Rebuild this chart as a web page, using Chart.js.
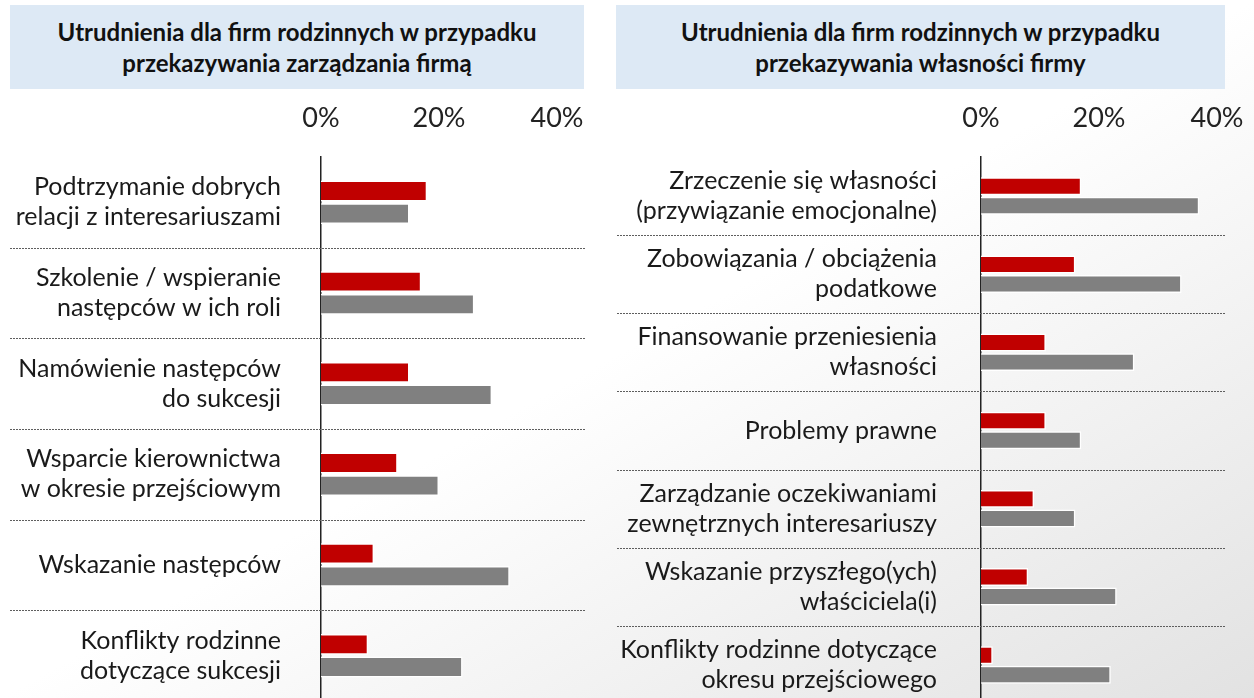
<!DOCTYPE html>
<html>
<head>
<meta charset="utf-8">
<script src="https://cdn.jsdelivr.net/npm/chart.js@4.4.1/dist/chart.umd.min.js"></script>
<style>
  html, body { margin: 0; padding: 0; }
  body {
    width: 1254px; height: 698px; overflow: hidden; position: relative;
    background: linear-gradient(to bottom right, #ffffff 50%, #e2e2e2 100%);
    font-family: Lato, "Open Sans", sans-serif;
  }
  .title-box {
    position: absolute; top: 5px; height: 84px;
    background: #dde9f5;
    display: flex; align-items: center; justify-content: center;
    text-align: center; font-weight: bold; font-size: 24px; line-height: 31px; color: #111;
  }
  .chart-wrap { position: absolute; top: 95px; }
</style>
</head>
<body>

<div class="title-box" style="left:10px;width:574px;">Utrudnienia dla firm rodzinnych w przypadku<br>przekazywania zarządzania firmą</div>
<div class="title-box" style="left:616px;width:609px;">Utrudnienia dla firm rodzinnych w przypadku<br>przekazywania własności firmy</div>

<div class="chart-wrap" style="left:0;width:600px;height:610px;"><canvas id="mgmt"></canvas></div>
<div class="chart-wrap" style="left:600px;width:654px;height:612px;"><canvas id="own"></canvas></div>

<script>
// --- data ---
const mgmtLabels = [
  ['Podtrzymanie dobrych', 'relacji z interesariuszami'],
  ['Szkolenie / wspieranie', 'następców w ich roli'],
  ['Namówienie następców', 'do sukcesji'],
  ['Wsparcie kierownictwa', 'w okresie przejściowym'],
  'Wskazanie następców',
  ['Konflikty rodzinne', 'dotyczące sukcesji']
];
const mgmtRed  = [18, 17, 15, 13, 9, 8];
const mgmtGray = [15, 26, 29, 20, 32, 24];

const ownLabels = [
  ['Zrzeczenie się własności', '(przywiązanie emocjonalne)'],
  ['Zobowiązania / obciążenia', 'podatkowe'],
  ['Finansowanie przeniesienia', 'własności'],
  'Problemy prawne',
  ['Zarządzanie oczekiwaniami', 'zewnętrznych interesariuszy'],
  ['Wskazanie przyszłego(ych)', 'właściciela(i)'],
  ['Konflikty rodzinne dotyczące', 'okresu przejściowego']
];
const ownRed  = [17, 16, 11, 11, 9, 8, 2];
const ownGray = [37, 34, 26, 17, 16, 23, 22];

const xTicks = [0, 20, 40];

const RED  = '#c00000';
const GRAY = '#808080';

// dotted separators between categories, running out under the labels
const bandLines = {
  id: 'bandLines',
  afterDatasetsDraw(chart, args, opts) {
    const y = chart.scales.y;
    const n = chart.data.labels.length;
    const ctx = chart.ctx;
    ctx.save();
    ctx.strokeStyle = '#5e5e5e';
    ctx.lineWidth = 1;
    ctx.setLineDash([2, 1]);
    for (let i = 1; i < n; i++) {
      const py = Math.round((y.getPixelForValue(i - 1) + y.getPixelForValue(i)) / 2) + 0.5;
      ctx.beginPath();
      ctx.moveTo(opts.from, py);
      ctx.lineTo(opts.to, py);
      ctx.stroke();
    }
    ctx.restore();
  }
};

function makeChart(id, labels, red, gray, axisWidth, labelPad, padRight, padBottom, lineFrom, lineTo) {
  return new Chart(document.getElementById(id), {
    type: 'bar',
    data: {
      labels,
      datasets: [
        { data: red,  backgroundColor: RED,  borderColor: '#ffffff', borderWidth: 1.5 },
        { data: gray, backgroundColor: GRAY, borderColor: '#ffffff', borderWidth: 1.5 }
      ]
    },
    options: {
      indexAxis: 'y',
      responsive: true,
      maintainAspectRatio: false,
      animation: false,
      datasets: { bar: { categoryPercentage: 0.5, barPercentage: 0.92 } },
      layout: { padding: { left: 0, top: 0, right: padRight, bottom: padBottom } },
      plugins: {
        legend: { display: false },
        tooltip: { enabled: false },
        bandLines: { from: lineFrom, to: lineTo }
      },
      scales: {
        x: {
          position: 'top',
          min: 0, max: 40,
          afterBuildTicks: s => { s.ticks = xTicks.map(v => ({ value: v })); },
          afterFit: s => { s.height = 62; s.paddingLeft = 0; s.paddingRight = 0; },
          ticks: {
            color: '#222',
            font: { family: 'Lato', size: 27 },
            padding: 23,
            callback: v => v + '%'
          },
          grid: { display: false, drawTicks: false },
          border: { display: false }
        },
        y: {
          afterFit: s => { s.width = axisWidth; s.paddingTop = 0; s.paddingBottom = 0; },
          ticks: {
            color: '#1a1a1a',
            font: { family: 'Lato', size: 25, lineHeight: 1.2 },
            padding: labelPad,
            autoSkip: false
          },
          grid: { display: false, drawTicks: false },
          border: { display: true, color: '#222', width: 1.5 }
        }
      }
    },
    plugins: [bandLines]
  });
}

makeChart('mgmt', mgmtLabels, mgmtRed, mgmtGray, 321, 40, 43, 4, 10, 585);
makeChart('own',  ownLabels,  ownRed,  ownGray,  381, 44, 37, 3, 17, 625);
</script>
</body>
</html>
